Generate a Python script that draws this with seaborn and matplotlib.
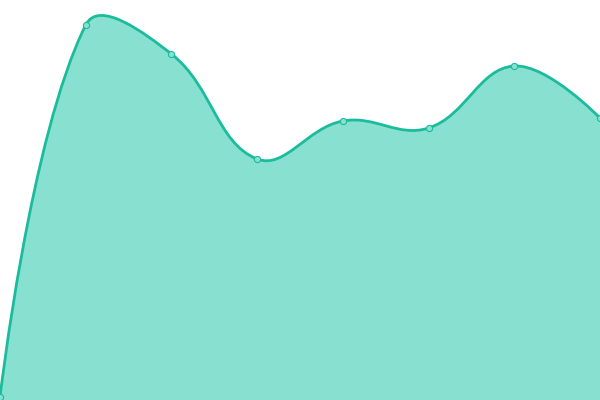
import matplotlib
matplotlib.use("Agg")
import matplotlib.pyplot as plt
from matplotlib.path import Path
from matplotlib.patches import PathPatch
import numpy as np
import pandas as pd
import seaborn as sns

# data (categories are unlabeled)
categories = [0, 1, 2, 3, 4, 5, 6, 7]
values = [3, 375, 346, 241, 279, 272, 334, 282]

LINE_COLOR = "#1abc9c"
FILL_COLOR = "#88e0d0"
SMOOTH = 0.4
X_MAX, Y_MAX = 7, 400
W_PX, H_PX = 600, 400


def control_points(pts):
    # distance weighted handles, measured in screen space
    scale = np.array([W_PX / X_MAX, H_PX / Y_MAX])
    scr = pts * scale
    n = len(scr)
    cps = []
    for i in range(n):
        if i == 0 or i == n - 1:
            cps.append((scr[i], scr[i]))
            continue
        v = scr[i + 1] - scr[i - 1]
        d0 = np.linalg.norm(scr[i] - scr[i - 1])
        d1 = np.linalg.norm(scr[i + 1] - scr[i])
        tot = d0 + d1
        cps.append((scr[i] - v * SMOOTH * d0 / tot, scr[i] + v * SMOOTH * d1 / tot))
    return [(a / scale, b / scale) for a, b in cps]


def smooth_path(xs, ys, closed_base=None):
    pts = np.column_stack([xs, ys]).astype(float)
    cps = control_points(pts)
    verts = [pts[0]]
    codes = [Path.MOVETO]
    for i in range(len(pts) - 1):
        verts += [cps[i][1], cps[i + 1][0], pts[i + 1]]
        codes += [Path.CURVE4] * 3
    if closed_base is not None:
        verts += [(pts[-1][0], closed_base), (pts[0][0], closed_base), pts[0]]
        codes += [Path.LINETO, Path.LINETO, Path.CLOSEPOLY]
    return Path(verts, codes)


df = pd.DataFrame({"x": categories, "y": values})

sns.set_theme(style="white")
fig = plt.figure(figsize=(6, 4), dpi=100)
ax = fig.add_axes([0, 0, 1, 1])

ax.add_patch(PathPatch(smooth_path(df["x"], df["y"], closed_base=0),
                       facecolor=FILL_COLOR, edgecolor="none", zorder=1))
ax.add_patch(PathPatch(smooth_path(df["x"], df["y"]),
                       facecolor="none", edgecolor=LINE_COLOR, linewidth=2.0,
                       zorder=2, capstyle="round", joinstyle="round"))
sns.scatterplot(data=df, x="x", y="y", ax=ax, s=20, color=FILL_COLOR,
                edgecolor=LINE_COLOR, linewidth=0.8, zorder=3, clip_on=False)

ax.set_xlim(0, X_MAX)
ax.set_ylim(0, Y_MAX)
ax.set_axis_off()

fig.savefig("out.png", dpi=100)
